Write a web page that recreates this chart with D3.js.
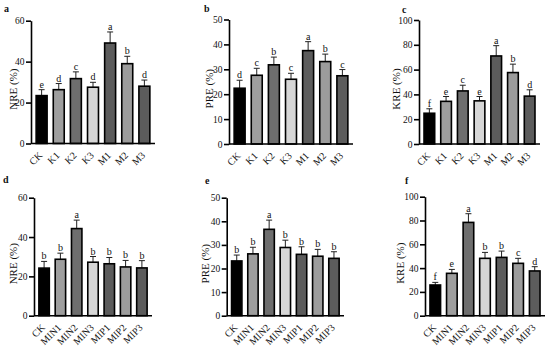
<!DOCTYPE html>
<html>
<head>
<meta charset="utf-8">
<script src="https://cdn.jsdelivr.net/npm/d3@7"></script>
<style>
  body { margin: 0; background: #fff; }
  svg { display: block; }
  text { font-family: "Liberation Serif", "DejaVu Serif", serif; fill: #111; }
</style>
</head>
<body>
<div id="chart"></div>
<script>
// treatments
const topGroups = ["CK", "K1", "K2", "K3", "M1", "M2", "M3"];
const bottomGroups = ["CK", "MIN1", "MIN2", "MIN3", "MIP1", "MIP2", "MIP3"];

// bar fills by position
const topFills = ["#000000", "#9e9e9e", "#6e6e6e", "#d6d6d6", "#5c5c5c", "#9c9c9c", "#5c5c5c"];
const bottomFills = ["#000000", "#9e9e9e", "#6e6e6e", "#d6d6d6", "#5c5c5c", "#9c9c9c", "#5c5c5c"];

// a - NRE
const nreTop = [23.4, 26.3, 31.7, 27.5, 49.1, 39.0, 28.0];
const nreTopErr = [2.9, 3.0, 3.3, 2.4, 5.4, 3.6, 3.0];
const nreTopSig = ["e", "d", "c", "d", "a", "b", "d"];

// b - PRE
const preTop = [22.4, 27.6, 31.8, 26.0, 37.5, 33.1, 27.4];
const preTopErr = [3.2, 2.8, 3.1, 2.4, 3.6, 3.0, 2.5];
const preTopSig = ["d", "c", "b", "c", "a", "b", "c"];

// c - KRE
const kreTop = [24.8, 34.4, 42.8, 34.8, 71.0, 57.6, 38.6];
const kreTopErr = [3.6, 3.9, 4.6, 3.5, 8.3, 6.8, 5.1];
const kreTopSig = ["f", "e", "c", "e", "a", "b", "d"];

// d - NRE
const nreBot = [24.2, 28.7, 44.3, 27.2, 26.4, 24.8, 24.3];
const nreBotErr = [3.4, 3.1, 4.3, 2.9, 3.2, 3.3, 3.7];
const nreBotSig = ["b", "b", "a", "b", "b", "b", "b"];

// e - PRE
const preBot = [23.2, 26.2, 36.6, 28.9, 26.0, 25.2, 24.3];
const preBotErr = [2.5, 2.8, 3.9, 3.1, 3.2, 2.9, 2.8];
const preBotSig = ["b", "b", "a", "b", "b", "b", "b"];

// f - KRE
const kreBot = [25.8, 35.6, 78.4, 48.2, 49.0, 44.0, 37.6];
const kreBotErr = [2.2, 3.3, 7.3, 5.0, 5.3, 4.2, 3.6];
const kreBotSig = ["f", "e", "a", "b", "b", "c", "d"];

const width = 550, height = 350;

const svg = d3.select("#chart").append("svg")
    .attr("width", width)
    .attr("height", height);

// panel layout: axis x, axis end, top of y range, baseline
const panels = [
    {tag: "a", label: "NRE (%)", groups: topGroups, fills: topFills, vals: nreTop, err: nreTopErr, sig: nreTopSig,
     max: 60, step: 20, x0: 31, x1: 155, y0: 20.7, y1: 143.5, tagX: 4, tagY: 12, labX: 13},
    {tag: "b", label: "PRE (%)", groups: topGroups, fills: topFills, vals: preTop, err: preTopErr, sig: preTopSig,
     max: 50, step: 10, x0: 229, x1: 353, y0: 19.5, y1: 144, tagX: 204, tagY: 12, labX: 209},
    {tag: "c", label: "KRE (%)", groups: topGroups, fills: topFills, vals: kreTop, err: kreTopErr, sig: kreTopSig,
     max: 100, step: 20, x0: 419, x1: 540, y0: 20, y1: 144, tagX: 402, tagY: 13, labX: 396},
    {tag: "d", label: "NRE (%)", groups: bottomGroups, fills: bottomFills, vals: nreBot, err: nreBotErr, sig: nreBotSig,
     max: 60, step: 20, x0: 34, x1: 152, y0: 197.7, y1: 315.7, tagX: 3, tagY: 183, labX: 13},
    {tag: "e", label: "PRE (%)", groups: bottomGroups, fills: bottomFills, vals: preBot, err: preBotErr, sig: preBotSig,
     max: 50, step: 10, x0: 226.7, x1: 344, y0: 197.7, y1: 315.7, tagX: 205, tagY: 184, labX: 205},
    {tag: "f", label: "KRE (%)", groups: bottomGroups, fills: bottomFills, vals: kreBot, err: kreBotErr, sig: kreBotSig,
     max: 100, step: 20, x0: 425, x1: 545, y0: 196.7, y1: 315.7, tagX: 405, tagY: 184, labX: 400}
];

panels.forEach(function(p) {
    let g = svg.append("g");

    let x = d3.scaleBand()
        .domain(p.groups)
        .range([p.x0, p.x1])
        .paddingInner(0.36)
        .paddingOuter(0.3);

    let y = d3.scaleLinear()
        .domain([0, p.max])
        .range([p.y1, p.y0]);

    let rows = p.groups.map(function(d, i) {
        return {name: d, v: p.vals[i], e: p.err[i], s: p.sig[i], fill: p.fills[i]};
    });

    let cx = d => x(d.name) + x.bandwidth() / 2;

    // error bars (upper only)
    g.selectAll(".err").data(rows).enter().append("line")
        .attr("x1", cx)
        .attr("x2", cx)
        .attr("y1", d => y(d.v))
        .attr("y2", d => y(d.v + d.e))
        .attr("stroke", "#222")
        .attr("stroke-width", 1);

    g.selectAll(".cap").data(rows).enter().append("line")
        .attr("x1", d => cx(d) - 3)
        .attr("x2", d => cx(d) + 3)
        .attr("y1", d => y(d.v + d.e))
        .attr("y2", d => y(d.v + d.e))
        .attr("stroke", "#222")
        .attr("stroke-width", 1);

    // bars
    g.selectAll(".bar").data(rows).enter().append("rect")
        .attr("x", d => x(d.name))
        .attr("y", d => y(d.v))
        .attr("width", x.bandwidth())
        .attr("height", d => y(0) - y(d.v))
        .attr("fill", d => d.fill)
        .attr("stroke", "#000")
        .attr("stroke-width", 1.6);

    // significance letters
    g.selectAll(".sig").data(rows).enter().append("text")
        .attr("x", cx)
        .attr("y", d => y(d.v + d.e) - 2)
        .attr("text-anchor", "middle")
        .style("font-size", "10px")
        .text(d => d.s);

    // y axis
    let yAxis = d3.axisLeft(y)
        .tickValues(d3.range(0, p.max + 0.1, p.step))
        .tickSize(5)
        .tickPadding(1.5)
        .tickSizeOuter(0);

    let ya = g.append("g")
        .attr("transform", "translate(" + p.x0 + ",0)")
        .call(yAxis);
    ya.select(".domain").attr("stroke", "#000").attr("stroke-width", 1.6);
    ya.selectAll(".tick line").attr("stroke", "#000").attr("stroke-width", 1.6);
    ya.selectAll(".tick text")
        .style("font-family", '"Liberation Serif", serif')
        .style("font-size", "9.5px")
        .attr("fill", "#111");

    // x axis baseline
    g.append("line")
        .attr("x1", p.x0)
        .attr("x2", p.x1)
        .attr("y1", y(0))
        .attr("y2", y(0))
        .attr("stroke", "#000")
        .attr("stroke-width", 1.6);

    // rotated x labels
    g.selectAll(".xl").data(rows).enter().append("text")
        .attr("transform", d => "translate(" + (cx(d) - 1) + "," + (y(0) + 10) + ") rotate(-45)")
        .attr("text-anchor", "end")
        .attr("dy", "0.35em")
        .style("font-size", "10px")
        .text(d => d.name);

    // y label
    g.append("text")
        .attr("transform", "translate(" + p.labX + "," + ((p.y0 + p.y1) / 2 + 7) + ") rotate(-90)")
        .attr("text-anchor", "middle")
        .attr("dy", "0.35em")
        .style("font-size", "11px")
        .text(p.label);

    // panel tag
    g.append("text")
        .attr("x", p.tagX)
        .attr("y", p.tagY)
        .style("font-size", "10px")
        .style("font-weight", "bold")
        .text(p.tag);
});
</script>
</body>
</html>
